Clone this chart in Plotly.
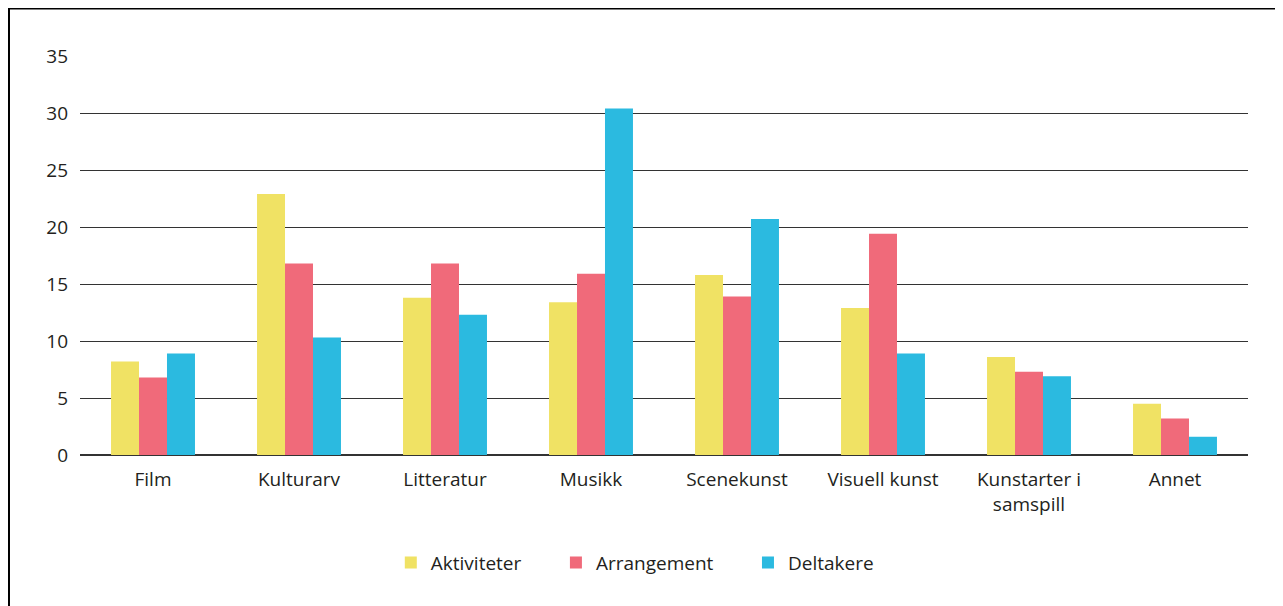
import plotly.graph_objects as go

CATEGORIES = ["Film", "Kulturarv", "Litteratur", "Musikk", "Scenekunst",
              "Visuell kunst", "Kunstarter i<br>samspill", "Annet"]
AKTIVITETER = [8.2, 22.9, 13.8, 13.4, 15.8, 12.9, 8.6, 4.5]
ARRANGEMENT = [6.8, 16.8, 16.8, 15.9, 13.9, 19.4, 7.3, 3.2]
DELTAKERE = [8.9, 10.3, 12.3, 30.4, 20.7, 8.9, 6.9, 1.6]
Y_TICKS = [0, 5, 10, 15, 20, 25, 30, 35]

COLORS = {"yellow": "#F0E264", "red": "#F06A7A", "blue": "#2BBAE0"}
FONT = "Open Sans, Lato, sans-serif"
PAD = "\u00a0" * 6  # extra room after the first two legend entries

fig = go.Figure()
for name, vals, col in [("Aktiviteter" + PAD, AKTIVITETER, COLORS["yellow"]),
                        ("Arrangement" + PAD, ARRANGEMENT, COLORS["red"]),
                        ("Deltakere", DELTAKERE, COLORS["blue"])]:
    fig.add_trace(go.Bar(x=CATEGORIES, y=vals, name=name, marker={"color": col, "line": {"width": 0}}))

# page body has an 8px margin, so the figure is sized/offset to fit the window
fig.update_layout(
    width=1275, height=598,
    template="plotly_white",
    barmode="group", bargap=0.425, bargroupgap=0,
    paper_bgcolor="white", plot_bgcolor="white",
    font={"family": FONT, "size": 19, "color": "#231F20"},
    margin={"l": 72, "r": 35, "t": 48, "b": 151},
    legend={"orientation": "h", "x": 0.475, "xanchor": "center", "y": -0.27, "yanchor": "middle",
            "font": {"size": 19}, "itemwidth": 30},
    shapes=[{"type": "rect", "xref": "paper", "yref": "paper",
             "x0": -0.0608, "x1": 1.029, "y0": -0.6, "y1": 1.1190,
             "line": {"color": "black", "width": 2}}],
)
fig.update_yaxes(range=[0, 35], tickvals=Y_TICKS, showgrid=True, gridcolor="#333333", gridwidth=1,
                 zeroline=True, zerolinecolor="#333333", zerolinewidth=1.5, ticks="", ticklabelstandoff=11)
fig.update_xaxes(showgrid=False, ticks="", ticklabelstandoff=11, showline=False)

fig.write_html("out.html")
